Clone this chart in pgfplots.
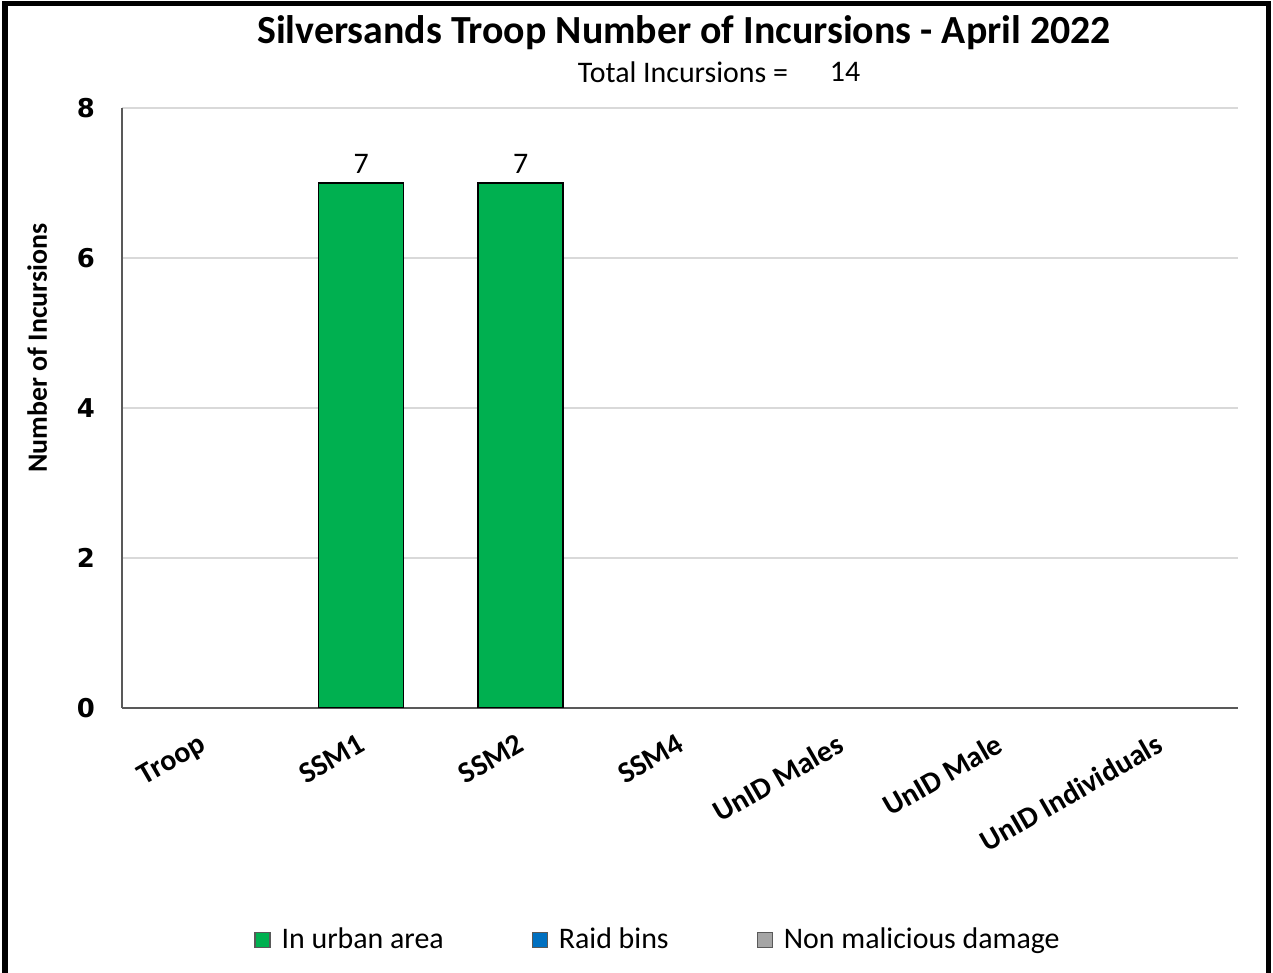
\documentclass[border=0pt]{standalone}
\usepackage{pgfplots}
\pgfplotsset{compat=1.18}
\usepackage{fontspec}
\setmainfont{Carlito}
\newfontfamily\tickfont{DejaVu Sans}
\definecolor{cgreen}{RGB}{0,176,80}
\definecolor{cblue}{RGB}{0,112,192}
\definecolor{cgray}{RGB}{165,165,165}
\definecolor{axgray}{RGB}{89,89,89}
\definecolor{gridgray}{RGB}{217,217,217}
\begin{document}
\begin{tikzpicture}[x=1bp,y=1bp]
\useasboundingbox (0,0) rectangle (636.5,486.5);
\fill[white] (0,0) rectangle (636.5,486.5);
\draw[line width=2.5bp] (2.5,-2) -- (2.5,484.5) -- (634,484.5) -- (634,-2);
\node[font=\fontsize{20}{24}\selectfont\bfseries] at (342,470) {Silversands Troop Number of Incursions - April 2022};
\node[font=\fontsize{15}{18}\selectfont] at (341.5,450.5) {Total Incursions =};
\node[font=\fontsize{15}{18}\selectfont] at (422.5,450.5) {14};
\begin{axis}[
  at={(61bp,132.5bp)}, anchor=south west,
  scale only axis, width=558bp, height=300bp,
  ymin=0, ymax=8, ytick={0,2,4,6,8},
  xmin=-0.5, xmax=6.5,
  xtick={0,1,2,3,4,5,6},
  xticklabels={Troop,SSM1,SSM2,SSM4,UnID Males,UnID Male,UnID Individuals},
  axis x line*=bottom, axis y line*=left,
  axis line style={axgray, line width=1bp, -},
  major tick length=0pt,
  ymajorgrids, grid style={gridgray, line width=0.6bp},
  yticklabel style={font=\fontsize{13}{15}\selectfont\tickfont\bfseries, xshift=-10bp},
  /pgf/number format/assume math mode=true,
  xticklabel style={font=\fontsize{15}{18}\selectfont\bfseries, rotate=30, anchor=north east, yshift=-6bp, xshift=-4.5bp},
  ylabel={Number of Incursions},
  ylabel style={font=\fontsize{14}{17}\selectfont\bfseries, at={(axis description cs:-0.076,0.60)}, anchor=center},
  ybar, bar width=42.5bp, bar shift=0pt,
  y filter/.expression={y==0 ? nan : y},
  unbounded coords=discard,
  nodes near coords,
  nodes near coords style={font=\fontsize{15}{18}\selectfont, black, yshift=1bp},
  legend columns=3,
  legend cell align=left,
  legend style={at={(268.5bp,-116bp)}, anchor=center, draw=none, fill=none,
    font=\fontsize{15}{18}\selectfont,
    /tikz/every even column/.append style={column sep=42bp}},
  legend image code/.code={\draw[#1] (0bp,-3.75bp) rectangle (7.5bp,3.75bp);},
]
\addplot[fill=cgreen, draw=black, line width=0.6bp, bar shift=0pt, forget plot] coordinates {(0,0) (1,7) (2,7) (3,0) (4,0) (5,0) (6,0)};
\addlegendimage{fill=cgreen, draw=axgray, line width=0.6bp}
\addlegendentry{\hspace{3.5bp}In urban area}
\addlegendimage{fill=cblue, draw=axgray, line width=0.6bp}
\addlegendentry{\hspace{3.5bp}Raid bins}
\addlegendimage{fill=cgray, draw=axgray, line width=0.6bp}
\addlegendentry{\hspace{3.5bp}Non malicious damage}
\end{axis}
\end{tikzpicture}
\end{document}
